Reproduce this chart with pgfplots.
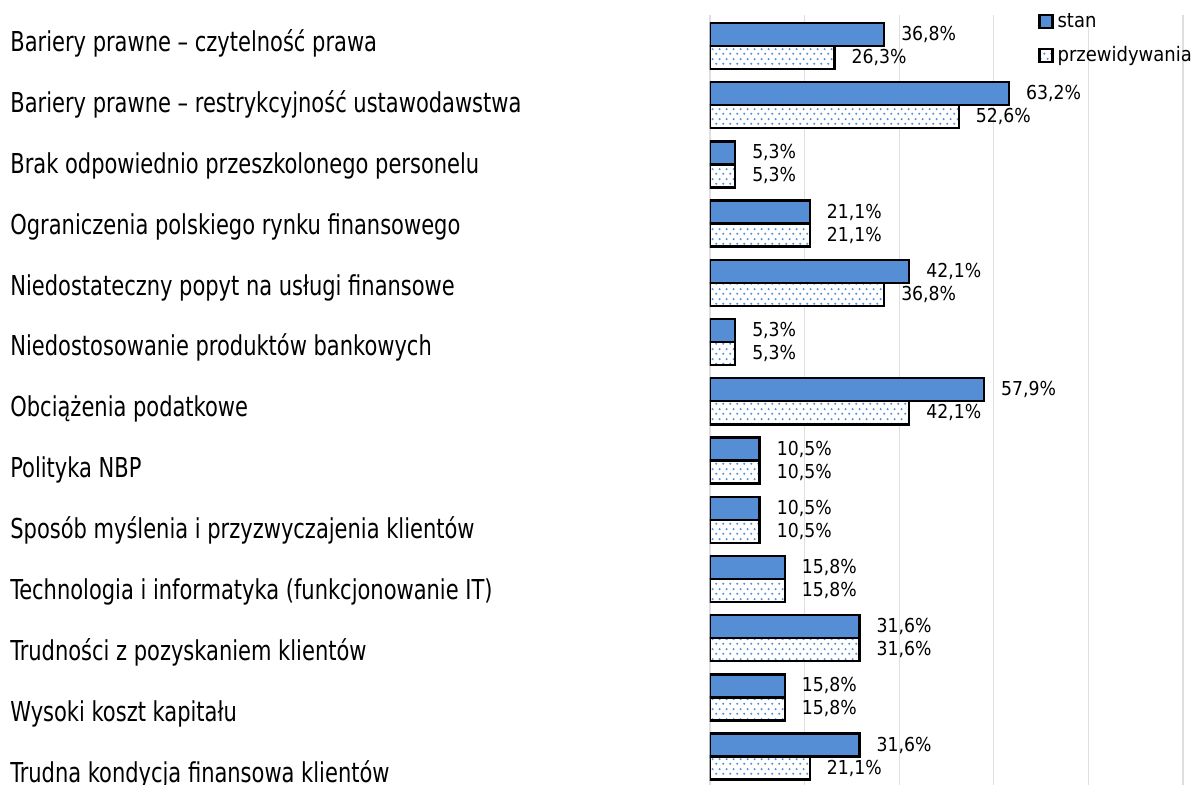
\documentclass[border=0pt]{standalone}
\usepackage{fontspec}
\setmainfont{DejaVu Sans Condensed}
\newfontfamily\labelfont[FakeStretch=0.852]{DejaVu Sans Condensed}
\usepackage{pgfplots}
\pgfplotsset{compat=1.18}
\usetikzlibrary{patterns}
\definecolor{barblue}{RGB}{85,142,213}
\pgfdeclarepatternformonly{mydots}{\pgfqpoint{0pt}{0pt}}{\pgfqpoint{3.65pt}{5pt}}{\pgfqpoint{3.65pt}{5pt}}{%
  \pgfpathcircle{\pgfqpoint{0.7pt}{0.7pt}}{0.62pt}%
  \pgfpathcircle{\pgfqpoint{2.525pt}{3.2pt}}{0.62pt}%
  \pgfusepath{fill}}
\begin{document}
\begin{tikzpicture}
\useasboundingbox (-355pt,0pt) rectangle (244pt,392.5pt);
\begin{axis}[
  at={(0pt,0pt)}, anchor=south west,
  scale only axis, width=236.5pt, height=385pt,
  xmin=0, xmax=100, ymin=-0.524, ymax=12.48, y dir=reverse,
  xbar, bar width=11.5pt,
  axis line style={draw=none},
  xtick={0,20,40,60,80,100}, xticklabels={},
  xmajorgrids, grid style={gray!25, line width=0.6pt},
  major tick length=0pt,
  ytick={0,...,12},
  yticklabels={
    Bariery prawne – czytelność prawa,
    Bariery prawne – restrykcyjność ustawodawstwa,
    Brak odpowiednio przeszkolonego personelu,
    Ograniczenia polskiego rynku finansowego,
    Niedostateczny popyt na usługi finansowe,
    Niedostosowanie produktów bankowych,
    Obciążenia podatkowe,
    Polityka NBP,
    Sposób myślenia i przyzwyczajenia klientów,
    Technologia i informatyka (funkcjonowanie IT),
    Trudności z pozyskaniem klientów,
    Wysoki koszt kapitału,
    Trudna kondycja finansowa klientów},
  yticklabel style={anchor=base west, xshift=-350pt, inner xsep=0pt,
    yshift={-(2.7+0.85*\ticknum)*1pt},
    font=\labelfont\fontsize{13.7}{15}\selectfont},
  point meta=x,
  nodes near coords={\pgfmathprintnumber[fixed, fixed zerofill, precision=1, use comma, assume math mode=true]{\pgfplotspointmeta}\%},
  nodes near coords style={anchor=west, inner xsep=0pt, xshift=8pt, font=\fontsize{9.6}{11}\selectfont, text=black},
  legend style={at={(0.693,1.008)}, anchor=north west, draw=none, fill=none, inner sep=0pt,
    font=\fontsize{10}{12}\selectfont, row sep=4pt,
    cells={anchor=west, inner xsep=2pt}},
  legend cell align=left,
  legend image code/.code={\draw[#1] (0pt,-3.25pt) rectangle (6.5pt,3.25pt);},
]
\addplot+[bar shift=5.75pt, draw=black, line width=1.2pt, fill=barblue] coordinates {
(36.8,0) (63.2,1) (5.3,2) (21.1,3) (42.1,4) (5.3,5) (57.9,6) (10.5,7) (10.5,8) (15.8,9) (31.6,10) (15.8,11) (31.6,12)};
\addlegendentry{stan}
\addplot+[bar shift=-5.75pt, draw=black, line width=1.2pt, fill=white, postaction={pattern=mydots, pattern color=barblue}] coordinates {
(26.3,0) (52.6,1) (5.3,2) (21.1,3) (36.8,4) (5.3,5) (42.1,6) (10.5,7) (10.5,8) (15.8,9) (31.6,10) (15.8,11) (21.1,12)};
\addlegendentry{przewidywania}
\end{axis}
\end{tikzpicture}
\end{document}
